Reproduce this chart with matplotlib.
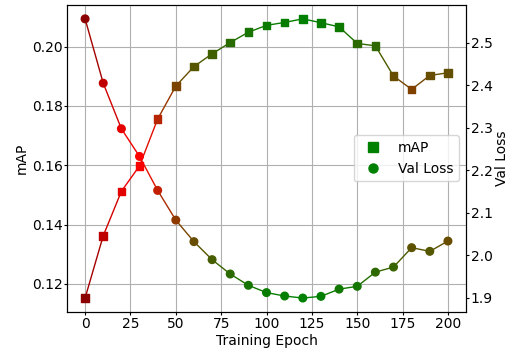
import matplotlib
matplotlib.use('Agg')
import matplotlib.pyplot as plt
import numpy as np
from matplotlib.collections import LineCollection
from matplotlib.colors import LinearSegmentedColormap
from matplotlib.lines import Line2D

# values
epochs = [0, 10, 20, 30, 40, 50, 60, 70, 80, 90, 100,
          110, 120, 130, 140, 150, 160, 170, 180, 190, 200]
map_vals = [0.1152, 0.1362, 0.1512, 0.1598, 0.1756, 0.1867, 0.1933, 0.1976,
            0.2014, 0.2049, 0.2072, 0.2082, 0.2094, 0.2081, 0.2067, 0.2011,
            0.2003, 0.1901, 0.1856, 0.1903, 0.1912]
loss_vals = [2.5565, 2.405, 2.2977, 2.2325, 2.1525, 2.0826, 2.0318, 1.9894,
             1.9556, 1.929, 1.9118, 1.9038, 1.899, 1.903, 1.920, 1.9266,
             1.960, 1.972, 2.0176, 2.009, 2.0332]

cmap = LinearSegmentedColormap.from_list("quality", ["darkred", "red", "green"])

# tight ticks like the reference
plt.rcParams['xtick.major.size'] = 2.2
plt.rcParams['ytick.major.size'] = 2.2
plt.rcParams['xtick.major.pad'] = 1.5
plt.rcParams['ytick.major.pad'] = 1.0
plt.rcParams['axes.labelpad'] = 2.0


def make_segments(x, y, score):
    pts = np.column_stack([x, y]).reshape(-1, 1, 2)
    segs = np.concatenate([pts[:-1], pts[1:]], axis=1)
    seg_score = (score[:-1] + score[1:]) / 2
    return segs, cmap(seg_score)


m = np.asarray(map_vals)
map_score = (m - m.min()) / (m.max() - m.min())
l = np.asarray(loss_vals)
loss_score = (l.max() - l) / (l.max() - l.min())
x = np.asarray(epochs, dtype=float)

fig = plt.figure(figsize=(5.15, 3.49), dpi=100)
ax1 = fig.add_axes([0.130, 0.106, 0.775, 0.880])
ax2 = ax1.twinx()

# lines
segs, cols = make_segments(x, m, map_score)
ax1.add_collection(LineCollection(segs, colors=cols, linewidths=1.0, zorder=2))
segs, cols = make_segments(x, l, loss_score)
ax2.add_collection(LineCollection(segs, colors=cols, linewidths=1.0, zorder=2))
ax1.autoscale_view()
ax2.autoscale_view()
ax1.set_autoscale_on(False)
ax2.set_autoscale_on(False)

# markers: both on the top axes so the squares sit above the circles
ax2.scatter(x, l, c=cmap(loss_score), marker="o", s=30, zorder=3)
ax2.scatter(x, m, c=cmap(map_score), marker="s", s=30, zorder=4,
            transform=ax1.transData)

ax1.set_xticks([0, 25, 50, 75, 100, 125, 150, 175, 200])
ax1.set_xlabel("Training Epoch")
ax1.set_ylabel("mAP")
ax2.set_ylabel("Val Loss")
ax1.grid(True)
ax1.set_axisbelow(True)

handles = [
    Line2D([], [], marker="s", color="green", linestyle="None", markersize=6.5),
    Line2D([], [], marker="o", color="green", linestyle="None", markersize=6.5),
]
ax2.legend(handles, ["mAP", "Val Loss"], loc="center right")

fig.savefig("out.png", dpi=100)
